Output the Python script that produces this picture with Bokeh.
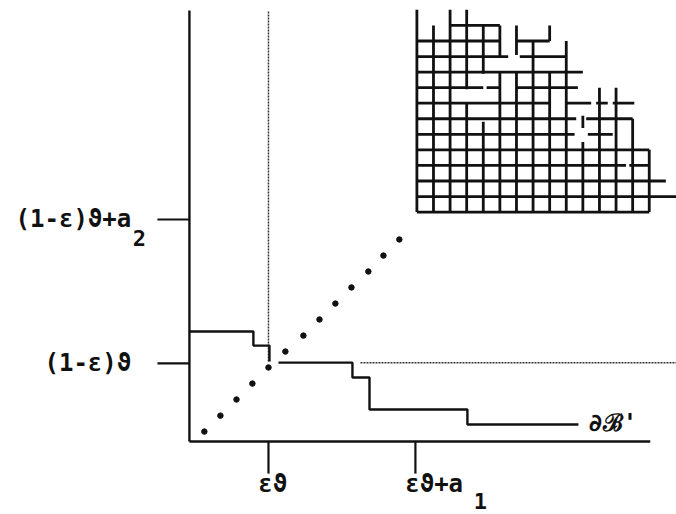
import numpy as np
from bokeh.plotting import figure
from bokeh.models import Range1d
from bokeh.embed import file_html
from bokeh.resources import INLINE
from bokeh.core.properties import value

# ---------------- data (diagram units) ----------------
# axis ticks
x_tick_pos = [4.82, 13.78]
x_tick_labels = ["εϑ", "εϑ+a"]
x_tick_subs = ["", "1"]
y_tick_pos = [4.86, 13.79]
y_tick_labels = ["(1-ε)ϑ", "(1-ε)ϑ+a"]
y_tick_subs = ["", "2"]

axis_x_end = 28.1
axis_y_end = 26.77

# boundary dB' (two pieces)
b1_x = [0.0, 3.90, 3.90, 4.88, 4.88]
b1_y = [6.83, 6.83, 5.96, 5.96, 4.97]
b2_x = [5.43, 9.94, 9.94, 10.98, 10.98, 16.95, 16.95, 23.72]
b2_y = [4.90, 4.90, 3.98, 3.98, 1.99, 1.99, 1.06, 1.06]

# diagonal dots
diag_x = [0.91, 1.89, 2.87, 3.84, 4.82, 5.85, 6.95, 7.93, 8.90, 9.88, 10.91, 11.83, 12.80]
diag_y = [0.62, 1.61, 2.61, 3.60, 4.60, 5.59, 6.58, 7.58, 8.57, 9.57, 10.56, 11.55, 12.55]

# dotted guide lines
vguide_x = 4.82
vguide_y = [4.97, 26.77]
hguide_y = 4.90
hguide_x = [10.43, 30.0]

# lattice (cell indices): horizontal segments per row, vertical per column
lat_x0, lat_y0 = 13.87, 14.25
lat_dx, lat_dy = 1.012, 0.966
lat_h = {
    0: [(0, 14)],
    1: [(0, 16.0)],
    2: [(0, 15)],
    3: [(0, 12.6), (12.8, 14)],
    4: [(0, 14)],
    5: [(0, 9.5), (10.3, 11.8)],
    6: [(0, 9.6), (10.2, 13)],
    7: [(0, 8), (9, 10.5), (10.8, 11.5), (11.8, 13.1)],
    8: [(0, 4), (4.2, 5), (6, 9.7)],
    9: [(0, 10)],
    10: [(0, 5.5), (6.2, 9)],
    11: [(0, 5), (6, 8)],
    12: [(2, 5)],
}
lat_v = {
    0: [(0, 13.0)],
    1: [(0, 12)],
    2: [(0, 13.0)],
    3: [(0, 7), (7.9, 13.0)],
    4: [(0, 5.8), (8.9, 12)],
    5: [(0, 9), (10, 12)],
    6: [(0, 9), (10.1, 12)],
    7: [(0, 11)],
    8: [(0, 9), (11, 12)],
    9: [(0, 11)],
    10: [(0, 4.5), (5.4, 6.2)],
    11: [(0, 8)],
    12: [(0, 8)],
    13: [(0, 6)],
    14: [(0, 4)],
}

# ---------------- figure ----------------
p = figure(width=676, height=514, x_range=Range1d(-11.52, 29.70),
           y_range=Range1d(-4.53, 27.39), output_backend="svg",
           toolbar_location=None, min_border=0)
p.axis.visible = False
p.xgrid.visible = False
p.ygrid.visible = False
p.outline_line_color = None
p.background_fill_color = "white"

ink = "#111111"

# axes
p.segment(x0=[0, 0], y0=[0, 0], x1=[0, axis_x_end], y1=[axis_y_end, 0],
          line_color=ink, line_width=2.4)
# ticks
p.segment(x0=x_tick_pos, y0=[0] * len(x_tick_pos), x1=x_tick_pos,
          y1=[-1.99] * len(x_tick_pos), line_color=ink, line_width=2.2)
p.segment(x0=[0] * len(y_tick_pos), y0=y_tick_pos, x1=[-1.95] * len(y_tick_pos),
          y1=y_tick_pos, line_color=ink, line_width=2.2)

font = value("DejaVu Sans Mono")
# y labels
p.text(x=[-3.55] * len(y_tick_pos), y=y_tick_pos, text=y_tick_labels,
       text_font=font, text_font_size="24px", text_font_style="bold",
       text_align="right", text_baseline="middle", text_color=ink)
p.text(x=[-3.45] * len(y_tick_pos), y=[v - 1.18 for v in y_tick_pos], text=y_tick_subs,
       text_font=font, text_font_size="22px", text_font_style="bold",
       text_align="left", text_baseline="middle", text_color=ink)
# x labels
p.text(x=[v - 0.62 for v in x_tick_pos], y=[-2.61] * len(x_tick_pos), text=x_tick_labels,
       text_font=font, text_font_size="24px", text_font_style="bold",
       text_align="left", text_baseline="middle", text_color=ink)
p.text(x=[v + 3.55 for v in x_tick_pos], y=[-3.70] * len(x_tick_pos), text=x_tick_subs,
       text_font=font, text_font_size="22px", text_font_style="bold",
       text_align="left", text_baseline="middle", text_color=ink)

# dotted guides
p.line(x=[vguide_x, vguide_x], y=vguide_y, line_color="#333333", line_width=1.5,
       line_dash="2 1")
p.line(x=hguide_x, y=[hguide_y, hguide_y], line_color="#333333", line_width=1.5,
       line_dash="2 1")

# boundary
p.line(x=b1_x, y=b1_y, line_color=ink, line_width=2.4)
p.line(x=b2_x, y=b2_y, line_color=ink, line_width=2.4)
p.text(x=[b2_x[-1] + 0.6], y=[b2_y[-1] + 0.12], text=["∂ℬ'"],
       text_font=font, text_font_size="24px", text_font_style="bold",
       text_align="left", text_baseline="middle", text_color=ink)

# diagonal dots
p.scatter(x=diag_x, y=diag_y, size=5.5, color=ink)

# lattice
hx0, hx1, hy = [], [], []
for r, segs in lat_h.items():
    for a, b in segs:
        hx0.append(lat_x0 + a * lat_dx)
        hx1.append(lat_x0 + b * lat_dx)
        hy.append(lat_y0 + r * lat_dy)
p.segment(x0=hx0, y0=hy, x1=hx1, y1=hy, line_color=ink, line_width=2.8)
vx, vy0, vy1 = [], [], []
for c, segs in lat_v.items():
    for a, b in segs:
        vx.append(lat_x0 + c * lat_dx)
        vy0.append(lat_y0 + a * lat_dy)
        vy1.append(lat_y0 + b * lat_dy)
p.segment(x0=vx, y0=vy0, x1=vx, y1=vy1, line_color=ink, line_width=2.8)

open("out.html", "w").write(file_html(p, INLINE))
